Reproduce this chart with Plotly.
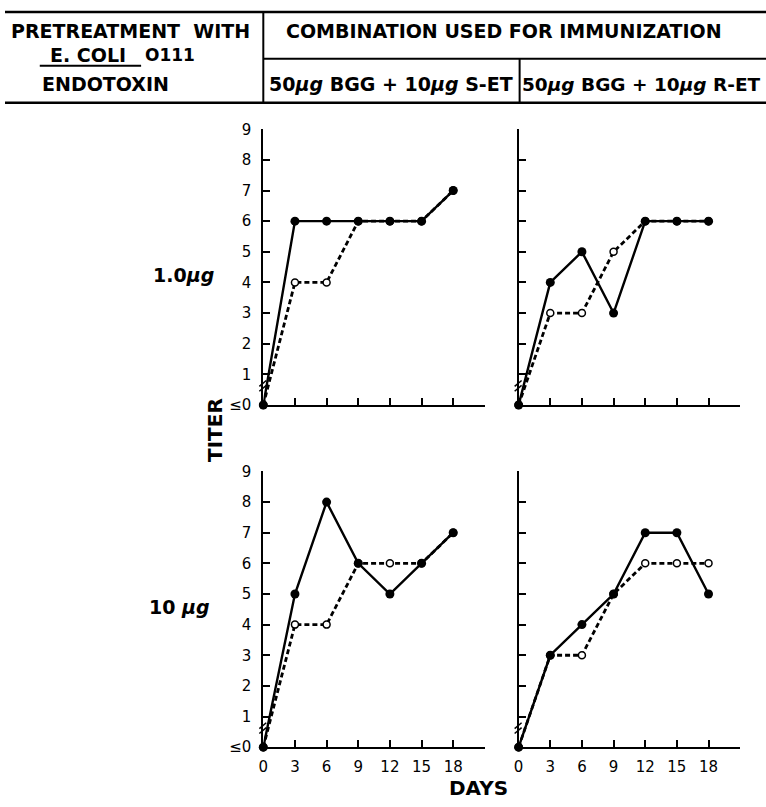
import plotly.graph_objects as go

W, H = 766, 807

days = [0, 3, 6, 9, 12, 15, 18]
x_tickvals = [0, 3, 6, 9, 12, 15, 18, 21]
x_ticktext = ["0", "3", "6", "9", "12", "15", "18", ""]
y_tickvals = [0, 1, 2, 3, 4, 5, 6, 7, 8, 9]
y_ticktext = ["≤0", "1", "2", "3", "4", "5", "6", "7", "8", "9"]

# 1.0 ug pretreatment
s_et_1_solid = [0, 6, 6, 6, 6, 6, 7]
s_et_1_dashed = [0, 4, 4, 6, 6, 6, 7]
r_et_1_solid = [0, 4, 5, 3, 6, 6, 6]
r_et_1_dashed = [0, 3, 3, 5, 6, 6, 6]
# 10 ug pretreatment
s_et_10_solid = [0, 5, 8, 6, 5, 6, 7]
s_et_10_dashed = [0, 4, 4, 6, 6, 6, 7]
r_et_10_solid = [0, 3, 4, 5, 7, 7, 5]
r_et_10_dashed = [0, 3, 3, 5, 6, 6, 6]

row_labels = ["1.0<i>µg</i>", "10 <i>µg</i>"]
col_labels = ["50<i>µg</i> BGG + 10<i>µg</i> S-ET", "50<i>µg</i> BGG + 10<i>µg</i> R-ET"]


def px(x):
    return x / W


def py(y):
    return 1 - y / H


FONT = "DejaVu Sans"
fig = go.Figure()

panels = [
    (s_et_1_solid, s_et_1_dashed, "x", "y"),
    (r_et_1_solid, r_et_1_dashed, "x2", "y2"),
    (s_et_10_solid, s_et_10_dashed, "x3", "y3"),
    (r_et_10_solid, r_et_10_dashed, "x4", "y4"),
]

for solid, dashed, xa, ya in panels:
    fig.add_trace(go.Scatter(
        x=days, y=dashed, xaxis=xa, yaxis=ya, mode="lines+markers",
        line=dict(color="black", width=2.8, dash="5px,3px"),
        marker=dict(symbol="circle", size=7, color="white", line=dict(color="black", width=1.5)),
        cliponaxis=False, showlegend=False))
    fig.add_trace(go.Scatter(
        x=days, y=solid, xaxis=xa, yaxis=ya, mode="lines+markers",
        line=dict(color="black", width=2.4),
        marker=dict(symbol="circle", size=9, color="black"),
        cliponaxis=False, showlegend=False))

xdoms = [(260, 483), (517, 740)]
ydoms = [(123, 405), (473, 755)]

layout_axes = {}
idx = 0
for r, (yt, yb) in enumerate(ydoms):
    for c, (xl, xr) in enumerate(xdoms):
        idx += 1
        sx = "" if idx == 1 else str(idx)
        layout_axes["xaxis" + sx] = dict(
            domain=[px(xl), px(xr)], range=[0, 21], anchor="y" + sx,
            tickvals=x_tickvals, ticktext=x_ticktext, showticklabels=(r == 1),
            ticks="inside", ticklen=7, tickwidth=1.5, tickcolor="black", ticklabelstandoff=5,
            showline=True, linecolor="black", linewidth=2, showgrid=False, zeroline=False,
            tickfont=dict(family=FONT, size=15, color="black"), fixedrange=True)
        layout_axes["yaxis" + sx] = dict(
            domain=[py(yb), py(yt)], range=[0, 9], anchor="x" + sx,
            tickvals=y_tickvals, ticktext=y_ticktext, showticklabels=(c == 0),
            ticks="inside", ticklen=7, tickwidth=1.5, tickcolor="black", ticklabelstandoff=7,
            showline=True, linecolor="black", linewidth=2, showgrid=False, zeroline=False,
            tickfont=dict(family=FONT, size=15, color="black"), fixedrange=True)

shapes = []
def hline(x0, x1, y, w):
    shapes.append(dict(type="line", xref="paper", yref="paper", x0=px(x0), x1=px(x1),
                       y0=py(y), y1=py(y), line=dict(color="black", width=w)))

def vline(x, y0, y1, w):
    shapes.append(dict(type="line", xref="paper", yref="paper", x0=px(x), x1=px(x),
                       y0=py(y0), y1=py(y1), line=dict(color="black", width=w)))

hline(0, 766, 3, 2.5)
hline(0, 766, 96, 2.5)
hline(260, 766, 51, 2)
vline(260, 3, 96, 2)
vline(518, 51, 96, 2)
hline(35, 137, 58, 2)

# broken-axis marks near origin
for (xl, _), (yt, yb) in [(xdoms[0], ydoms[0]), (xdoms[1], ydoms[0]), (xdoms[0], ydoms[1]), (xdoms[1], ydoms[1])]:
    for dy in (0, 5):
        shapes.append(dict(type="line", xref="paper", yref="paper",
                           x0=px(xl - 4), x1=px(xl + 3), y0=py(yb - 14 - dy), y1=py(yb - 20 - dy),
                           line=dict(color="black", width=1.5)))

annotations = []
def text(x, y, s, size=18, angle=0, weight="bold", xanchor="center"):
    annotations.append(dict(x=px(x), y=py(y), xref="paper", yref="paper", text=s,
                            showarrow=False, textangle=angle, xanchor=xanchor, yanchor="middle",
                            font=dict(family=FONT, size=size, color="black", weight=weight)))

text(126, 22, "PRETREATMENT  WITH", size=19)
text(84, 47, "E. COLI", size=19)
text(139, 47, "O111", size=17, xanchor="left")
text(101, 77, "ENDOTOXIN", size=19)
text(502, 22, "COMBINATION USED FOR IMMUNIZATION", size=19)
text(389, 77, col_labels[0], size=19)
text(641, 77, col_labels[1], size=18.5)
text(180, 272, row_labels[0], size=19)
text(176, 612, row_labels[1], size=19)
text(212, 431, "TITER", size=20, angle=-90)
text(477, 797, "DAYS", size=20)

fig.update_layout(
    width=W, height=H, margin=dict(l=0, r=0, t=0, b=0),
    paper_bgcolor="white", plot_bgcolor="white",
    shapes=shapes, annotations=annotations, **layout_axes)

fig.write_html("out.html")
